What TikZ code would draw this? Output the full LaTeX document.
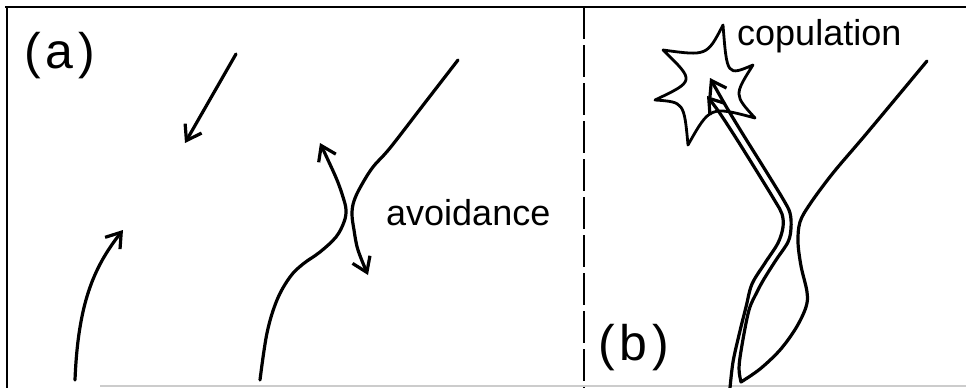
\documentclass[tikz,border=0pt]{standalone}
\usepackage{fontspec}
\setmainfont{Liberation Sans}
\usetikzlibrary{arrows.meta}
\tikzset{
  frm/.style ={line width=2.6pt},
  sep/.style ={line width=2.6pt, dash pattern=on 32pt off 6pt},
  trk/.style ={line width=3.2pt, line cap=round, line join=round},
  arr/.style ={trk, -{Straight Barb[length=14pt,width=19pt]}},
  lbl/.style ={font=\fontsize{36}{42}\selectfont, inner sep=0pt, anchor=base west},
  plbl/.style={font=\fontsize{50}{56}\selectfont, inner sep=0pt, anchor=base west},
}
\begin{document}
\begin{tikzpicture}[x=1pt, y=-1pt]
  \useasboundingbox (0,0) rectangle (966,388);
  \draw[frm] (5,7) -- (966,7);
  \draw[frm] (7,6) -- (7,388);
  \draw[gray!40, line width=1.5pt] (100,386) -- (966,386);
  \draw[sep] (584,7) -- (584,388);

  \node[plbl] (pa) at (24,68) {(\hspace{5pt}a\hspace{5pt})};
  \node[plbl] (pb) at (598,360) {(\hspace{5pt}b\hspace{5pt})};
  \node[lbl] (avoid) at (386,225) {avoidance};
  \node[lbl] (copul) at (737,45) {copulation};

  \draw[arr] (236,54) -- (185,143);
  \draw[arr] (75,380) .. controls (78,305) and (93,268) .. (123,230);
  \draw[arr] plot[smooth, tension=0.6] coordinates {(260,380) (267,333) (277,300) (290,277) (303,264) (320,252) (336,237) (344,222) (346,210) (343,197) (337,180) (328,160) (320,143)};
  \draw[arr] plot[smooth, tension=0.6] coordinates {(458,60) (424,104) (390,148) (373,167) (361,186) (354,201) (352,214) (354,230) (358,250) (368,275)};

  \draw[trk, line width=2.8pt] (723,25) .. controls (727,76) .. (753,65) .. controls (734,95) .. (755,118)
    .. controls (710,106) .. (688,145) .. controls (684,102) .. (655,100)
    .. controls (695,81) .. (663,50) .. controls (707,56) .. (723,25) -- cycle;
  \draw[arr] plot[smooth, tension=0.55] coordinates {(730,388) (733,362) (739,335) (746,307) (752,284) (765,263) (778,243) (783,227) (782,214) (775,201) (756,170) (736,138) (719,112) (707,96)};
  \draw[arr] plot[smooth, tension=0.55] coordinates {(927,61) (867,133) (833,173) (810,204) (800,222) (798,242) (801,266) (807,292) (806,307) (796,328) (780,350) (760,369) (741,382)}
    -- plot[smooth, tension=0.55] coordinates {(741,382) (739,368) (742,345) (749,310) (757,292) (764,279) (776,260) (788,242) (791,228) (790,213) (783,199) (764,168) (744,136) (727,108) (710,78)};
\end{tikzpicture}
\end{document}
